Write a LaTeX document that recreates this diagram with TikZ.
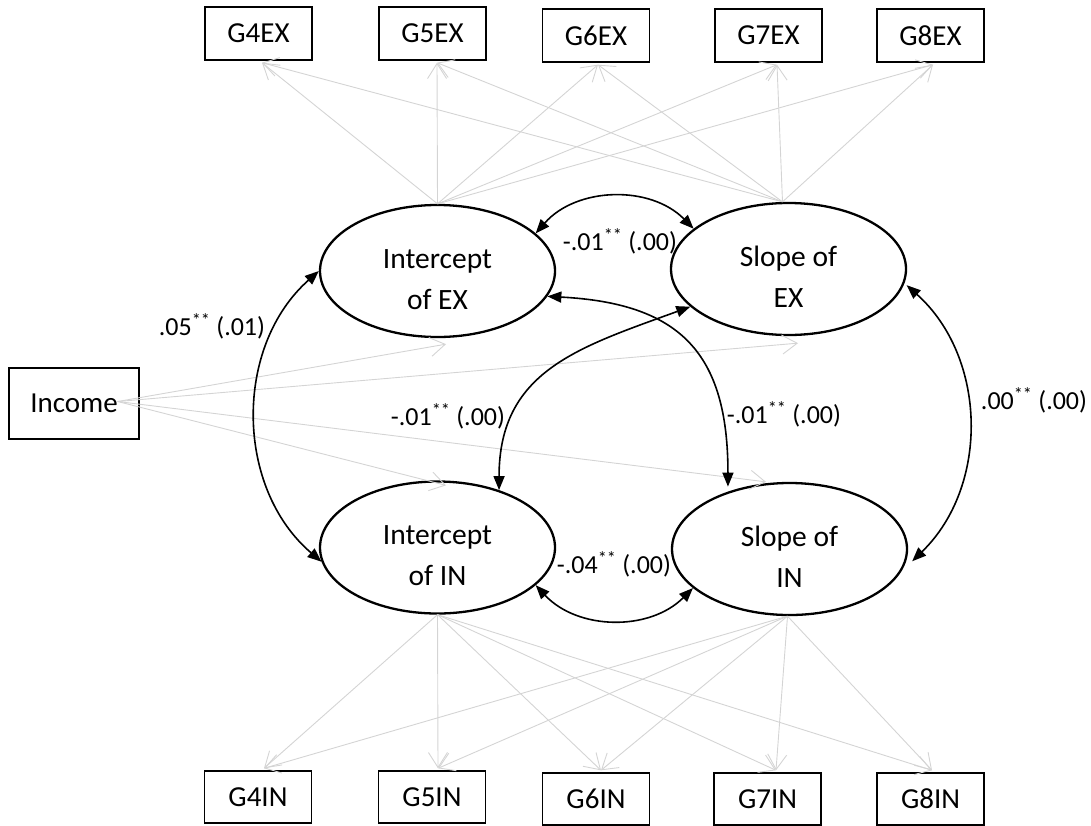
\documentclass[tikz,border=0pt]{standalone}
\usepackage{fontspec}
\setmainfont{Carlito}
\usetikzlibrary{arrows.meta,shapes.geometric}
\definecolor{lg}{RGB}{212,212,212}
\begin{document}
\begin{tikzpicture}[x=1pt,y=-1pt,
  box/.style={draw, line width=1.4pt, minimum width=107pt, minimum height=53pt, inner sep=0pt, font=\fontsize{29}{35}\selectfont},
  lat/.style={draw, ellipse, line width=2.3pt, minimum width=235pt, minimum height=132pt, inner sep=0pt, align=center, text height=76pt, text depth=0pt, font=\fontsize{29.5}{41}\selectfont},
  lab/.style={inner sep=0pt, font=\fontsize{26}{30}\selectfont},
  load/.style={draw=lg, line width=0.9pt, -{Straight Barb[length=15pt,width=19pt]}},
  cov/.style={line width=1.6pt, {Triangle[length=14pt,width=11pt]}-{Triangle[length=14pt,width=11pt]}}
]
\useasboundingbox (0,0) rectangle (1091,825);

% observed indicators
\node[box] (g4ex) at (258.5,33.5) {G4EX};
\node[box] (g5ex) at (432.5,33.5) {G5EX};
\node[box] (g6ex) at (596,35.5) {G6EX};
\node[box] (g7ex) at (768.5,35.5) {G7EX};
\node[box] (g8ex) at (930.5,35.5) {G8EX};
\node[box, minimum height=52pt] (g4in) at (258,797) {G4IN};
\node[box, minimum height=52pt] (g5in) at (432,797) {G5IN};
\node[box, minimum height=52pt] (g6in) at (596,799) {G6IN};
\node[box, minimum height=52pt] (g7in) at (767.5,799) {G7IN};
\node[box, minimum height=52pt] (g8in) at (930.5,799) {G8IN};
\node[box, minimum width=130pt, minimum height=71pt] (inc) at (74,403.5) {Income};

% latent factors
\node[lat] (iex) at (437.5,271) {Intercept\\of EX};
\node[lat] (sex) at (788.5,269) {Slope of\\EX};
\node[lat] (iin) at (437.5,547.5) {Intercept\\of IN};
\node[lat] (six) at (789.5,549) {Slope of\\IN};

% labels
\node[lab] (l1) at (212,326) {.05\textsuperscript{**} (.01)};
\node[lab] (l2) at (620,241) {-.01\textsuperscript{**} (.00)};
\node[lab] (l3) at (448,416) {-.01\textsuperscript{**} (.00)};
\node[lab] (l4) at (784,414) {-.01\textsuperscript{**} (.00)};
\node[lab] (l5) at (1034,400) {.00\textsuperscript{**} (.00)};
\node[lab] (l6) at (614,564) {-.04\textsuperscript{**} (.00)};

% loadings
\foreach \b/\dx in {g4ex/3.5, g5ex/4.5, g6ex/2, g7ex/8.5, g8ex/2.5} {
  \draw[load] (iex.north) -- ([xshift=\dx pt, yshift=-2pt]\b.south);
  \draw[load] ([xshift=-6pt]sex.north) -- ([xshift=\dx pt, yshift=-2pt]\b.south);
}
\foreach \b/\dx in {g4in/6, g5in/6, g6in/5, g7in/8.5, g8in/1.5} {
  \draw[load] (iin.south) -- ([xshift=\dx pt, yshift=2pt]\b.north);
  \draw[load] ([xshift=-2pt]six.south) -- ([xshift=\dx pt, yshift=2pt]\b.north);
}

% income paths
\coordinate (incsrc) at ([xshift=-22pt,yshift=2pt]inc.east);
\draw[load] (incsrc) -- ([xshift=8.5pt,yshift=-6pt]iex.south);
\draw[load] (incsrc) -- ([xshift=9.5pt,yshift=-7pt]sex.south);
\draw[load] (incsrc) -- ([xshift=-23.5pt]six.north);
\draw[load] (incsrc) -- ([xshift=8.5pt,yshift=-5pt]iin.north);

% covariances
\draw[cov] (iex.180) to[bend right=49] (iin.187);
\draw[cov] (iex.21) to[bend left=47] (sex.157);
\draw[cov] (iex.-13) to[out=-3,in=90,looseness=1.3] ([yshift=5pt]six.137);
\draw[cov] (iin.43) to[out=90,in=200,looseness=1.15] (sex.201);
\draw[cov] ([xshift=3pt]sex.-8) to[bend left=47] ([xshift=6pt]six.-6);
\draw[cov] (iin.-21) to[bend right=46] (six.202);
\end{tikzpicture}
\end{document}
